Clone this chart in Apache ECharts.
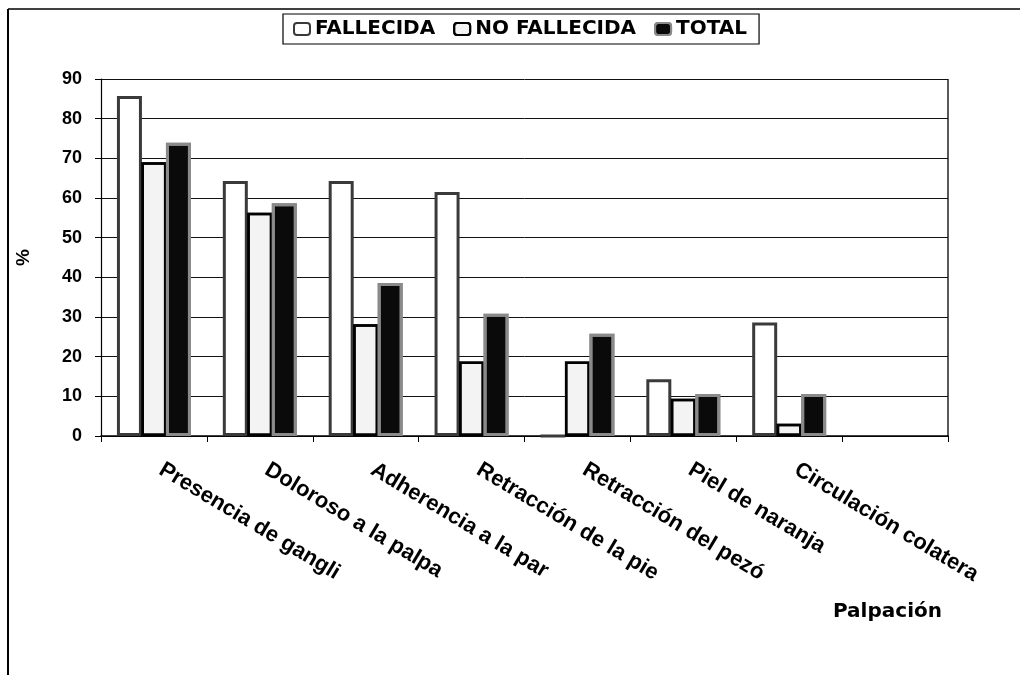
<!DOCTYPE html>
<html>
<head>
<meta charset="utf-8">
<script src="https://cdn.jsdelivr.net/npm/echarts@6/dist/echarts.min.js"></script>
<style>
  html, body { margin: 0; padding: 0; background: #fff; }
  #main { width: 1020px; height: 675px; }
</style>
</head>
<body>
<div id="main"></div>
<script>
// categorias de palpacion (la ultima casilla va vacia, como en el original)
var categories = ['Presencia de ganglios', 'Doloroso a la palpación', 'Adherencia a la pared',
  'Retracción de la piel', 'Retracción del pezón', 'Piel de naranja', 'Circulación colateral', ''];
var fallecida = [85.7, 64.3, 64.3, 61.5, 0, 14.3, 28.6, null];
var noFallecida = [69.0, 56.3, 28.2, 18.8, 18.8, 9.4, 3.1, null];
var total = [73.9, 58.7, 38.6, 30.8, 25.8, 10.6, 10.6, null];
var yTicks = [0, 10, 20, 30, 40, 50, 60, 70, 80, 90];

var font = 'Liberation Sans, Arial, sans-serif';
var wide = 'DejaVu Sans, sans-serif';
var chart = echarts.init(document.getElementById('main'));

var option = {
  animation: false,
  backgroundColor: '#fff',
  textStyle: { fontFamily: font },
  title: {
    text: 'Palpación',
    left: 833,
    top: 602,
    padding: 0,
    textStyle: { fontSize: 20, fontWeight: 'bold', color: '#000', fontFamily: wide }
  },
  graphic: [
    // marco exterior (solo izquierda y arriba)
    { type: 'line', shape: { x1: 8, y1: 9, x2: 8, y2: 675 }, style: { stroke: '#000', lineWidth: 2 } },
    { type: 'line', shape: { x1: 8, y1: 9, x2: 1020, y2: 9 }, style: { stroke: '#000', lineWidth: 1.5 } },
    // borde derecho del area de trazado
    { type: 'line', shape: { x1: 948, y1: 79, x2: 948, y2: 436 }, style: { stroke: '#222', lineWidth: 1.5 } }
  ],
  legend: {
    top: 14,
    left: 283,
    itemWidth: 16,
    itemHeight: 12,
    itemGap: 18,
    padding: [5, 12, 5, 10],
    borderColor: '#000',
    borderWidth: 1.2,
    textStyle: { fontSize: 20, fontWeight: 'bold', color: '#000', fontFamily: wide },
    data: ['FALLECIDA', 'NO FALLECIDA', 'TOTAL']
  },
  grid: { left: 101, right: 72, top: 79, bottom: 239 },
  xAxis: {
    type: 'category',
    data: categories,
    axisLine: { lineStyle: { color: '#000', width: 1.5 } },
    axisTick: { show: true, length: 6, lineStyle: { color: '#000' } },
    axisLabel: {
      interval: 0,
      rotate: -31,
      margin: 28,
      align: 'left',
      padding: [0, 0, 0, 8],
      fontSize: 22,
      fontWeight: 'bold',
      color: '#000',
      fontFamily: font,
      width: 214,
      overflow: 'truncate',
      ellipsis: ''
    }
  },
  yAxis: {
    type: 'value',
    min: 0,
    max: 90,
    interval: 10,
    name: '%',
    nameLocation: 'middle',
    nameGap: 68,
    nameRotate: 90,
    nameTextStyle: { fontSize: 19, fontWeight: 'bold', color: '#000' },
    axisLine: { show: true, lineStyle: { color: '#000', width: 1.2 } },
    axisTick: { show: true, length: 6, lineStyle: { color: '#000' } },
    axisLabel: {
      fontSize: 18, fontWeight: 'bold', color: '#000', margin: 19,
      formatter: function (v) { return yTicks.indexOf(v) >= 0 ? String(v) : ''; }
    },
    splitLine: { lineStyle: { color: '#111', width: 1 } }
  },
  series: [
    {
      name: 'FALLECIDA',
      type: 'bar',
      data: fallecida,
      barWidth: 25,
      barGap: '-2%',
      itemStyle: { color: '#ffffff', borderColor: '#3a3a3a', borderWidth: 3, borderType: 'solid' }
    },
    {
      name: 'NO FALLECIDA',
      type: 'bar',
      data: noFallecida,
      barWidth: 25,
      itemStyle: {
        color: '#f3f3f3', borderColor: '#000', borderWidth: 2.5,
        decal: { symbol: 'rect', symbolSize: 0.15, dashArrayX: [[1, 5]], dashArrayY: [1, 4], color: '#bdbdbd', rotation: 0 }
      }
    },
    {
      name: 'TOTAL',
      type: 'bar',
      data: total,
      barWidth: 25,
      itemStyle: {
        color: '#0a0a0a', borderColor: '#8a8a8a', borderWidth: 3,
        decal: { symbol: 'rect', symbolSize: 0.2, dashArrayX: [[1, 9]], dashArrayY: [1, 11], color: '#d8d8d8', rotation: 0.3 }
      }
    }
  ]
};

chart.setOption(option);
</script>
</body>
</html>
